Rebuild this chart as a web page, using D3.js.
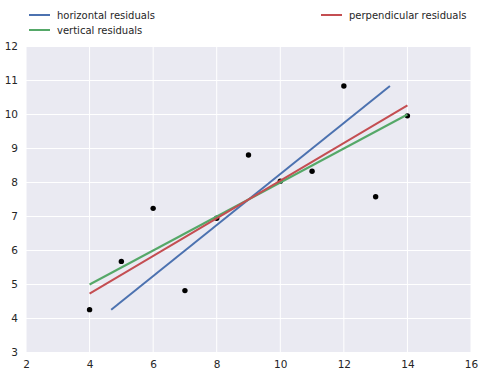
<!DOCTYPE html>
<html><head><meta charset="utf-8">
<script src="https://cdn.jsdelivr.net/npm/d3@7"></script>
<style>body{margin:0;background:#fff;}svg{display:block;font-family:"DejaVu Sans",sans-serif;}</style>
</head><body>
<svg id="c" width="484" height="377"></svg>
<script>
const xs = [10, 8, 13, 9, 11, 14, 6, 4, 12, 7, 5];
const ys = [8.04, 6.95, 7.58, 8.81, 8.33, 9.96, 7.24, 4.26, 10.84, 4.82, 5.68];
const seriesNames = ["horizontal residuals", "vertical residuals", "perpendicular residuals"];
const seriesColors = ["#4C72B0", "#55A868", "#C44E52"];
const lineX = [[4.68, 13.45], [4, 14], [4, 14]];
const lineY = [[4.26, 10.84], [5.0, 10.0], [4.73, 10.27]];
const xTicks = [2, 4, 6, 8, 10, 12, 14, 16];
const yTicks = [3, 4, 5, 6, 7, 8, 9, 10, 11, 12];

const svg = d3.select("#c");
const L = 26, R = 471, T = 46.5, B = 352.5;
const x = d3.scaleLinear().domain([2, 16]).range([L, R]);
const y = d3.scaleLinear().domain([3, 12]).range([B, T]);

svg.append("rect").attr("x", L).attr("y", T).attr("width", R - L).attr("height", B - T).attr("fill", "#EAEAF2");
const g = svg.append("g");
g.selectAll(".gx").data(xTicks).join("line").attr("x1", d => x(d)).attr("x2", d => x(d)).attr("y1", T).attr("y2", B).attr("stroke", "#fff").attr("stroke-width", 1);
g.selectAll(".gy").data(yTicks).join("line").attr("x1", L).attr("x2", R).attr("y1", d => y(d)).attr("y2", d => y(d)).attr("stroke", "#fff").attr("stroke-width", 1);

const xAxis = svg.append("g").attr("transform", `translate(0,${B})`).call(d3.axisBottom(x).tickValues(xTicks).tickSize(0).tickPadding(8).tickFormat(d3.format("d")));
const yAxis = svg.append("g").attr("transform", `translate(${L},0)`).call(d3.axisLeft(y).tickValues(yTicks).tickSize(0).tickPadding(8).tickFormat(d3.format("d")));
[xAxis, yAxis].forEach(a => { a.select(".domain").remove(); a.selectAll("text").attr("fill", "#262626").style("font-size", "10.5px").style("font-family", "DejaVu Sans, sans-serif"); });

svg.selectAll(".pt").data(xs.map((v, i) => [v, ys[i]])).join("circle").attr("cx", d => x(d[0])).attr("cy", d => y(d[1])).attr("r", 2.7).attr("fill", "#000");

const line = d3.line().x(d => x(d[0])).y(d => y(d[1]));
lineX.forEach((lx, i) => {
  svg.append("path").attr("d", line(lx.map((v, j) => [v, lineY[i][j]]))).attr("stroke", seriesColors[i]).attr("stroke-width", 2).attr("fill", "none");
});

const legPos = [[29, 15], [29, 30], [321, 15]];
seriesNames.forEach((n, i) => {
  const [lx, ly] = legPos[i];
  svg.append("line").attr("x1", lx).attr("x2", lx + 21).attr("y1", ly).attr("y2", ly).attr("stroke", seriesColors[i]).attr("stroke-width", 2);
  svg.append("text").attr("x", lx + 28).attr("y", ly).attr("dy", "0.35em").attr("fill", "#262626").style("font-size", "10px").text(n);
});
</script>
</body></html>
